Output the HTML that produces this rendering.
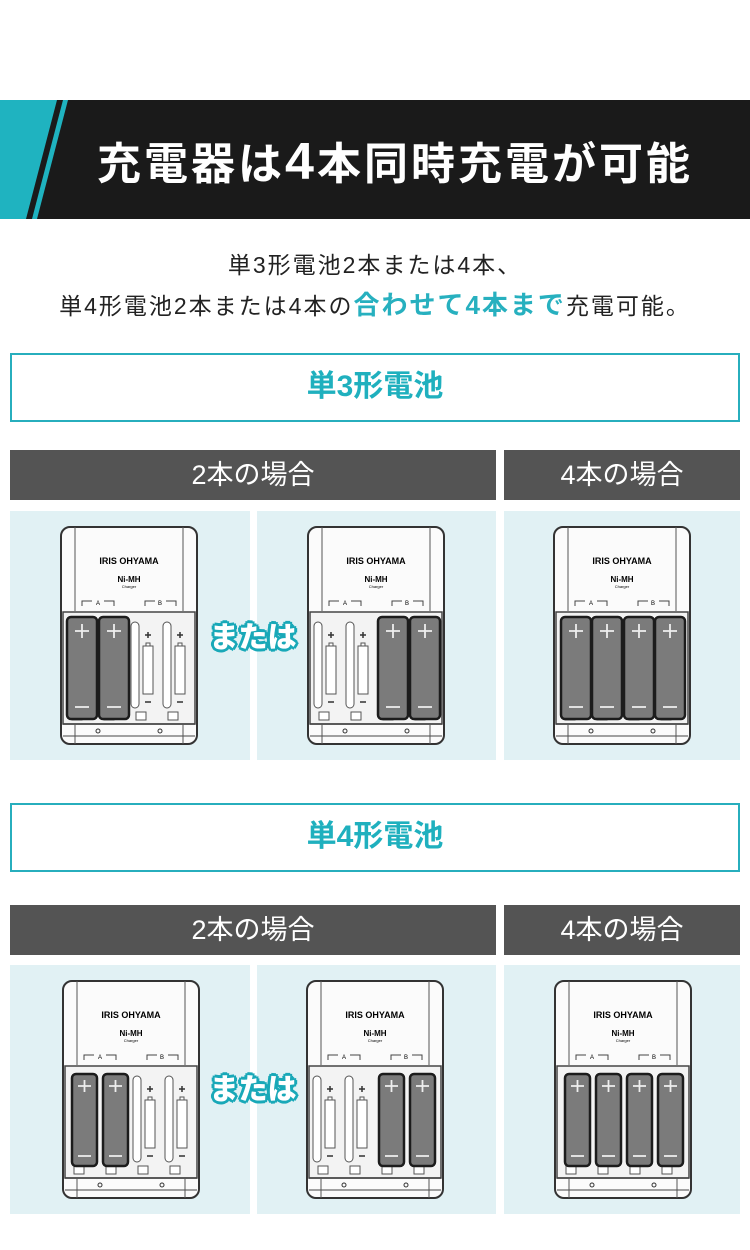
<!DOCTYPE html>
<html><head><meta charset="utf-8"><style>
body{margin:0;width:750px;height:1250px;background:#fff;position:relative;overflow:hidden;font-family:"Liberation Sans","Noto Sans CJK JP",sans-serif}
.a{position:absolute}
.hdr{background:#545454;color:#fff;font-size:27px;text-align:center;line-height:50px;height:50px}
.pan{background:#e1f1f4}
.box{border:2px solid #27aebd;box-sizing:border-box;color:#1fb0be;font-weight:bold;font-size:30px;text-align:center;line-height:64px}
.mata{font-size:29px;font-weight:900;color:#fff;text-shadow:0 0 2px #1aa9b8,2px 0 0 #1aa9b8,-2px 0 0 #1aa9b8,0 2px 0 #1aa9b8,0 -2px 0 #1aa9b8,2px 2px 0 #1aa9b8,-2px -2px 0 #1aa9b8,2px -2px 0 #1aa9b8,-2px 2px 0 #1aa9b8,3px 0 0 #1aa9b8,-3px 0 0 #1aa9b8,0 3px 0 #1aa9b8,0 -3px 0 #1aa9b8}
svg.c{position:absolute;width:138px;height:220px}
</style></head><body>
<svg width="0" height="0" style="position:absolute">
<defs>
<g id="frame">
<rect x="1" y="1" width="136" height="217" rx="9" fill="#fbfbfb" stroke="#333" stroke-width="2"/>
<line x1="15" y1="1" x2="15" y2="85" stroke="#555" stroke-width="1"/>
<line x1="123" y1="1" x2="123" y2="85" stroke="#555" stroke-width="1"/>
<path d="M22 80v-5h10 M44 75h10v5 M85 80v-5h10 M106 75h10v5" fill="none" stroke="#444" stroke-width="1"/>
<rect x="3" y="86" width="132" height="112" fill="#f3f3f3" stroke="#444" stroke-width="1.5"/>
<line x1="3" y1="198" x2="135" y2="198" stroke="#444" stroke-width="1.5"/>
<line x1="3" y1="210" x2="135" y2="210" stroke="#444" stroke-width="1"/>
<line x1="15" y1="198" x2="15" y2="218" stroke="#555"/>
<line x1="123" y1="198" x2="123" y2="218" stroke="#555"/>
<circle cx="38" cy="205" r="2" fill="none" stroke="#333"/>
<circle cx="100" cy="205" r="2" fill="none" stroke="#333"/>
<rect x="12" y="186" width="10" height="8" fill="#fff" stroke="#555"/>
<rect x="44" y="186" width="10" height="8" fill="#fff" stroke="#555"/>
<rect x="76" y="186" width="10" height="8" fill="#fff" stroke="#555"/>
<rect x="108" y="186" width="10" height="8" fill="#fff" stroke="#555"/>
</g>
<g id="empty">
<rect x="0" y="8" width="8" height="86" rx="4" fill="#fff" stroke="#555"/>
<rect x="12" y="32" width="10" height="48" fill="#fff" stroke="#555"/>
<rect x="15" y="29" width="4" height="3" fill="#fff" stroke="#555"/>
<path d="M14 21h6 M17 18v6 M14 88h6" stroke="#333" stroke-width="1.5"/>
</g>
<g id="aa">
<rect x="0" y="0" width="30" height="102" rx="4" fill="#7b7b7b" stroke="#1c1c1c" stroke-width="2.5"/>
<path d="M8 14h14 M15 7v14 M8 90h14" stroke="#eee" stroke-width="1.8"/>
</g>
<g id="aaa">
<rect x="0" y="0" width="25" height="92" rx="4" fill="#7b7b7b" stroke="#1c1c1c" stroke-width="2.5"/>
<path d="M6 12h13 M12.5 6v12 M6 82h13" stroke="#eee" stroke-width="1.8"/>
</g>
</defs></svg>

<!-- header -->
<div class="a" style="left:0;top:100px;width:750px;height:119px;background:#1a1a1a"></div>
<svg class="a" style="left:0;top:100px" width="100" height="119"><polygon points="0,0 57,0 26,119 0,119" fill="#1fb3c0"/><polygon points="63,0 68,0 37,119 32,119" fill="#1fb3c0"/></svg>
<div class="a" style="left:80px;top:132px;width:630px;text-align:center;color:#fff;font-size:44px;font-weight:bold;line-height:60px;letter-spacing:3px">充電器は<span style="font-size:52px">4</span>本同時充電が可能</div>

<div class="a" style="left:0;top:245px;width:750px;text-align:center;font-size:23px;color:#222;line-height:40px;letter-spacing:2px">単3形電池2本または4本、<br>単4形電池2本または4本の<span style="color:#27b0bf;font-weight:bold;font-size:26px">合わせて4本まで</span>充電可能。</div>

<div class="a box" style="left:10px;top:353px;width:730px;height:69px">単3形電池</div>
<div class="a hdr" style="left:10px;top:450px;width:486px">2本の場合</div>
<div class="a hdr" style="left:504px;top:450px;width:236px">4本の場合</div>
<div class="a pan" style="left:10px;top:511px;width:240px;height:249px"></div>
<div class="a pan" style="left:257px;top:511px;width:239px;height:249px"></div>
<div class="a pan" style="left:504px;top:511px;width:236px;height:249px"></div>

<div class="a box" style="left:10px;top:803px;width:730px;height:69px">単4形電池</div>
<div class="a hdr" style="left:10px;top:905px;width:486px">2本の場合</div>
<div class="a hdr" style="left:504px;top:905px;width:236px">4本の場合</div>
<div class="a pan" style="left:10px;top:965px;width:240px;height:249px"></div>
<div class="a pan" style="left:257px;top:965px;width:239px;height:249px"></div>
<div class="a pan" style="left:504px;top:965px;width:236px;height:249px"></div>

<!-- section 1 chargers -->
<svg class="c" style="left:60px;top:526px" viewBox="0 0 138 220">
<use href="#frame"/>
<text x="69" y="38" font-size="9" font-weight="bold" text-anchor="middle" font-family="Liberation Sans">IRIS OHYAMA</text>
<text x="69" y="56" font-size="8" font-weight="bold" text-anchor="middle" font-family="Liberation Sans">Ni-MH</text>
<text x="69" y="62" font-size="4" text-anchor="middle" font-family="Liberation Sans">Charger</text>
<text x="38" y="79" font-size="6" text-anchor="middle" font-family="Liberation Sans">A</text>
<text x="100" y="79" font-size="6" text-anchor="middle" font-family="Liberation Sans">B</text>
<use href="#empty" x="71" y="88"/><use href="#empty" x="103" y="88"/>
<use href="#aa" x="7" y="91"/><use href="#aa" x="39" y="91"/>
</svg>
<svg class="c" style="left:307px;top:526px" viewBox="0 0 138 220">
<use href="#frame"/>
<text x="69" y="38" font-size="9" font-weight="bold" text-anchor="middle" font-family="Liberation Sans">IRIS OHYAMA</text>
<text x="69" y="56" font-size="8" font-weight="bold" text-anchor="middle" font-family="Liberation Sans">Ni-MH</text>
<text x="69" y="62" font-size="4" text-anchor="middle" font-family="Liberation Sans">Charger</text>
<text x="38" y="79" font-size="6" text-anchor="middle" font-family="Liberation Sans">A</text>
<text x="100" y="79" font-size="6" text-anchor="middle" font-family="Liberation Sans">B</text>
<use href="#empty" x="7" y="88"/><use href="#empty" x="39" y="88"/>
<use href="#aa" x="71" y="91"/><use href="#aa" x="103" y="91"/>
</svg>
<svg class="c" style="left:553px;top:526px" viewBox="0 0 138 220">
<use href="#frame"/>
<text x="69" y="38" font-size="9" font-weight="bold" text-anchor="middle" font-family="Liberation Sans">IRIS OHYAMA</text>
<text x="69" y="56" font-size="8" font-weight="bold" text-anchor="middle" font-family="Liberation Sans">Ni-MH</text>
<text x="69" y="62" font-size="4" text-anchor="middle" font-family="Liberation Sans">Charger</text>
<text x="38" y="79" font-size="6" text-anchor="middle" font-family="Liberation Sans">A</text>
<text x="100" y="79" font-size="6" text-anchor="middle" font-family="Liberation Sans">B</text>
<use href="#aa" x="8" y="91"/><use href="#aa" x="39" y="91"/><use href="#aa" x="71" y="91"/><use href="#aa" x="102" y="91"/>
</svg>
<div class="a mata" style="left:204px;top:618px;width:98px;text-align:center;line-height:40px">または</div>

<!-- section 2 chargers -->
<svg class="c" style="left:62px;top:980px" viewBox="0 0 138 220">
<use href="#frame"/>
<text x="69" y="38" font-size="9" font-weight="bold" text-anchor="middle" font-family="Liberation Sans">IRIS OHYAMA</text>
<text x="69" y="56" font-size="8" font-weight="bold" text-anchor="middle" font-family="Liberation Sans">Ni-MH</text>
<text x="69" y="62" font-size="4" text-anchor="middle" font-family="Liberation Sans">Charger</text>
<text x="38" y="79" font-size="6" text-anchor="middle" font-family="Liberation Sans">A</text>
<text x="100" y="79" font-size="6" text-anchor="middle" font-family="Liberation Sans">B</text>
<use href="#empty" x="71" y="88"/><use href="#empty" x="103" y="88"/>
<use href="#aaa" x="10" y="94"/><use href="#aaa" x="41" y="94"/>
</svg>
<svg class="c" style="left:306px;top:980px" viewBox="0 0 138 220">
<use href="#frame"/>
<text x="69" y="38" font-size="9" font-weight="bold" text-anchor="middle" font-family="Liberation Sans">IRIS OHYAMA</text>
<text x="69" y="56" font-size="8" font-weight="bold" text-anchor="middle" font-family="Liberation Sans">Ni-MH</text>
<text x="69" y="62" font-size="4" text-anchor="middle" font-family="Liberation Sans">Charger</text>
<text x="38" y="79" font-size="6" text-anchor="middle" font-family="Liberation Sans">A</text>
<text x="100" y="79" font-size="6" text-anchor="middle" font-family="Liberation Sans">B</text>
<use href="#empty" x="7" y="88"/><use href="#empty" x="39" y="88"/>
<use href="#aaa" x="73" y="94"/><use href="#aaa" x="104" y="94"/>
</svg>
<svg class="c" style="left:554px;top:980px" viewBox="0 0 138 220">
<use href="#frame"/>
<text x="69" y="38" font-size="9" font-weight="bold" text-anchor="middle" font-family="Liberation Sans">IRIS OHYAMA</text>
<text x="69" y="56" font-size="8" font-weight="bold" text-anchor="middle" font-family="Liberation Sans">Ni-MH</text>
<text x="69" y="62" font-size="4" text-anchor="middle" font-family="Liberation Sans">Charger</text>
<text x="38" y="79" font-size="6" text-anchor="middle" font-family="Liberation Sans">A</text>
<text x="100" y="79" font-size="6" text-anchor="middle" font-family="Liberation Sans">B</text>
<use href="#aaa" x="11" y="94"/><use href="#aaa" x="42" y="94"/><use href="#aaa" x="73" y="94"/><use href="#aaa" x="104" y="94"/>
</svg>
<div class="a mata" style="left:204px;top:1070px;width:98px;text-align:center;line-height:40px">または</div>
</body></html>
